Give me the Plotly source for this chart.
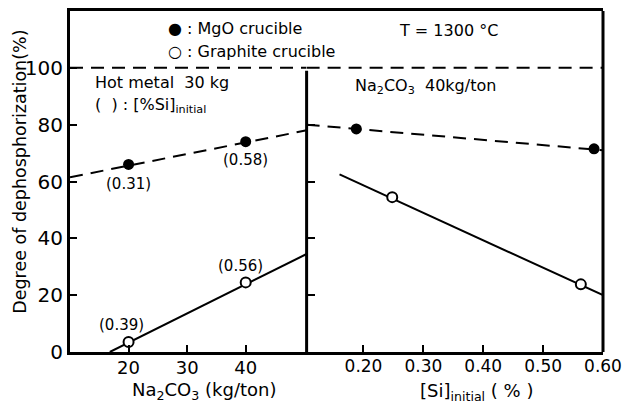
import plotly.graph_objects as go

# ---- data ----
na2co3_pts = [20, 40]
mgo_left_pts = [66, 74]
graphite_left_pts = [3.5, 24.5]
mgo_left_fit_x = [10, 50.4]
mgo_left_fit_y = [61.5, 78]
graphite_left_fit_x = [16.8, 50.4]
graphite_left_fit_y = [0, 34.5]
si_left_labels_mgo = ["(0.31)", "(0.58)"]
si_left_labels_gr = ["(0.39)", "(0.56)"]

si_mgo_pts = [0.188, 0.585]
mgo_right_pts = [78.5, 71.5]
si_gr_pts = [0.248, 0.563]
graphite_right_pts = [54.5, 23.8]
mgo_right_fit_x = [0.105, 0.60]
mgo_right_fit_y = [80, 71]
graphite_right_fit_x = [0.16, 0.60]
graphite_right_fit_y = [62.5, 20]

left_ticks = [20, 30, 40]
right_ticks = [0.20, 0.30, 0.40, 0.50, 0.60]
right_ticktext = ["0.20", "0.30", "0.40", "0.50", "0.60"]
y_ticks = [0, 20, 40, 60, 80, 100]

FONT = "DejaVu Sans"
DASH = "13px,8px"
BLACK = "black"

# plot area in pixels (for placing free text)
L, R, T, B = 70, 605, 8, 352
def px(x):
    return (x - L) / (R - L)
def py(y):
    return (B - y) / (B - T)

fig = go.Figure()

# left panel
fig.add_trace(go.Scatter(x=mgo_left_fit_x, y=mgo_left_fit_y, mode="lines",
                         line=dict(color=BLACK, width=2, dash=DASH), xaxis="x", yaxis="y"))
fig.add_trace(go.Scatter(x=graphite_left_fit_x, y=graphite_left_fit_y, mode="lines",
                         line=dict(color=BLACK, width=2), xaxis="x", yaxis="y"))
fig.add_trace(go.Scatter(x=[10, 50.4], y=[100, 100], mode="lines",
                         line=dict(color=BLACK, width=2, dash=DASH), xaxis="x", yaxis="y"))
fig.add_trace(go.Scatter(x=na2co3_pts, y=mgo_left_pts, mode="markers",
                         marker=dict(color=BLACK, size=11), xaxis="x", yaxis="y"))
fig.add_trace(go.Scatter(x=na2co3_pts, y=graphite_left_pts, mode="markers",
                         marker=dict(color="white", size=10, line=dict(color=BLACK, width=2)),
                         xaxis="x", yaxis="y"))

# right panel
fig.add_trace(go.Scatter(x=mgo_right_fit_x, y=mgo_right_fit_y, mode="lines",
                         line=dict(color=BLACK, width=2, dash=DASH), xaxis="x2", yaxis="y2"))
fig.add_trace(go.Scatter(x=graphite_right_fit_x, y=graphite_right_fit_y, mode="lines",
                         line=dict(color=BLACK, width=2), xaxis="x2", yaxis="y2"))
fig.add_trace(go.Scatter(x=[0.105, 0.60], y=[100, 100], mode="lines",
                         line=dict(color=BLACK, width=2, dash=DASH), xaxis="x2", yaxis="y2"))
fig.add_trace(go.Scatter(x=si_mgo_pts, y=mgo_right_pts, mode="markers",
                         marker=dict(color=BLACK, size=11), xaxis="x2", yaxis="y2"))
fig.add_trace(go.Scatter(x=si_gr_pts, y=graphite_right_pts, mode="markers",
                         marker=dict(color="white", size=10, line=dict(color=BLACK, width=2)),
                         xaxis="x2", yaxis="y2"))

split = (307.5 - L) / (R - L)
tickfont = dict(family=FONT, size=18, color=BLACK)

fig.update_layout(
    width=630, height=406,
    margin=dict(l=L, r=630 - R, t=T, b=406 - B),
    paper_bgcolor="white", plot_bgcolor="white",
    showlegend=False,
    font=dict(family=FONT, color=BLACK),
    xaxis=dict(domain=[0, split], range=[10, 50.4], tickvals=left_ticks,
               ticks="inside", ticklen=7, tickwidth=2, tickcolor=BLACK,
               showline=True, linewidth=3, linecolor=BLACK, mirror=True,
               showgrid=False, zeroline=False, tickfont=tickfont, anchor="y",
               ticklabelstandoff=-3),
    xaxis2=dict(domain=[split, 1], range=[0.105, 0.60], tickvals=right_ticks,
                ticktext=right_ticktext,
                ticks="inside", ticklen=7, tickwidth=2, tickcolor=BLACK,
                showline=True, linewidth=3, linecolor=BLACK, mirror=True,
                showgrid=False, zeroline=False, tickfont=dict(family=FONT, size=17, color=BLACK),
                anchor="y2", ticklabelstandoff=-3),
    yaxis=dict(range=[0, 120], tickvals=y_ticks, ticks="inside", ticklen=7,
               tickwidth=2, tickcolor=BLACK, showline=True, linewidth=3,
               linecolor=BLACK, showgrid=False, zeroline=False,
               tickfont=dict(family=FONT, size=20, color=BLACK), anchor="x"),
    yaxis2=dict(range=[0, 120], tickvals=[20, 40, 60, 80], ticks="inside", ticklen=8,
                tickwidth=2, tickcolor=BLACK, showline=False, showticklabels=False,
                showgrid=False, zeroline=False, anchor="x2", matches="y"),
)

# divider and right border
fig.add_shape(type="line", xref="x2 domain", yref="y2", x0=0, x1=0, y0=0, y1=99,
              line=dict(color=BLACK, width=3))
fig.add_shape(type="line", xref="x2 domain", yref="y2 domain", x0=1, x1=1, y0=0, y1=1,
              line=dict(color=BLACK, width=3))

ann = []
def A(text, x, y, xref="paper", yref="paper", size=16, xanchor="left", yanchor="middle", **kw):
    ann.append(dict(text=text, x=x, y=y, xref=xref, yref=yref, showarrow=False,
                    font=dict(family=FONT, size=size, color=BLACK),
                    xanchor=xanchor, yanchor=yanchor, **kw))

# point labels
A(si_left_labels_mgo[0], na2co3_pts[0], mgo_left_pts[0], "x", "y", size=15, xanchor="center", yshift=-20)
A(si_left_labels_mgo[1], na2co3_pts[1], mgo_left_pts[1], "x", "y", size=15, xanchor="center", yshift=-18)
A(si_left_labels_gr[0], na2co3_pts[0], graphite_left_pts[0], "x", "y", size=15, xanchor="center", yshift=17, xshift=-7)
A(si_left_labels_gr[1], na2co3_pts[1], graphite_left_pts[1], "x", "y", size=15, xanchor="center", yshift=16, xshift=-5)

# panel notes
A("Hot metal  30 kg", px(93), py(80))
A("(  ) : [%Si]<sub>initial</sub>", px(93), py(103))
A("Na<sub>2</sub>CO<sub>3</sub>  40kg/ton", px(354), py(84))

# legend-like header
A("\u25CF : MgO crucible", px(166), py(26))
A("\u25CB : Graphite crucible", px(166), py(49))
A("T = 1300 \u00B0C", px(398), py(28))

# axis titles
A("Degree of dephosphorization(%)", px(19), py(170), size=17.5,
  xanchor="center", textangle=-90)
A("Na<sub>2</sub>CO<sub>3</sub> (kg/ton)", px(205), py(391), size=18, xanchor="center")
A("[Si]<sub>initial</sub> ( % )", px(478), py(392), size=18, xanchor="center")

fig.update_layout(annotations=ann)
fig.write_html("out.html")
